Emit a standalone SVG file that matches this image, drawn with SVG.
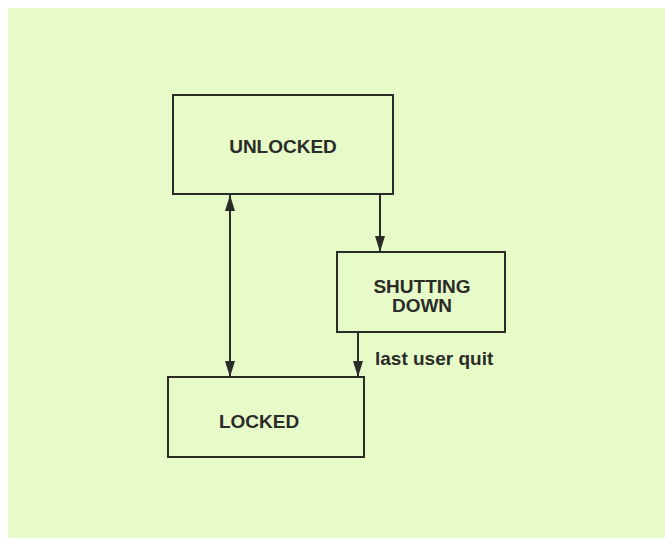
<svg xmlns="http://www.w3.org/2000/svg" width="665" height="538" viewBox="0 0 665 538">
<style>
.box{fill:none;stroke:#2b2b28;stroke-width:2}
.lbl{font-family:"Liberation Sans",Arial,sans-serif;font-size:19px;font-weight:bold;fill:#2b2b28;text-anchor:middle}
.edge{stroke:#2b2b28;stroke-width:2;fill:none}
</style>
<defs>
<marker id="ah" viewBox="0 0 16 10" refX="16" refY="5" markerWidth="16" markerHeight="10" markerUnits="userSpaceOnUse" orient="auto-start-reverse">
<path d="M0,0 L16,5 L0,10 Z" fill="#2b2b28"/>
</marker>
</defs>
<rect x="0" y="0" width="665" height="538" fill="#ffffff"/>
<rect x="8" y="8" width="657" height="530" fill="#e6fbc8"/>
<g id="connectors">
<line class="edge" x1="230" y1="195" x2="230" y2="377" marker-start="url(#ah)" marker-end="url(#ah)"/>
<line class="edge" x1="380" y1="194" x2="380" y2="252" marker-end="url(#ah)"/>
<line class="edge" x1="358" y1="332" x2="358" y2="377" marker-end="url(#ah)"/>
<text class="lbl" x="375" y="365" style="text-anchor:start">last user quit</text>
</g>
<g id="unlocked">
<rect class="box" x="173" y="95" width="220" height="99"/>
<text class="lbl" x="283" y="153">UNLOCKED</text>
</g>
<g id="shutting-down">
<rect class="box" x="337" y="252" width="168" height="80"/>
<text class="lbl" x="422" y="293">SHUTTING</text>
<text class="lbl" x="422" y="312">DOWN</text>
</g>
<g id="locked">
<rect class="box" x="168" y="377" width="196" height="80"/>
<text class="lbl" x="259" y="428">LOCKED</text>
</g>
</svg>
